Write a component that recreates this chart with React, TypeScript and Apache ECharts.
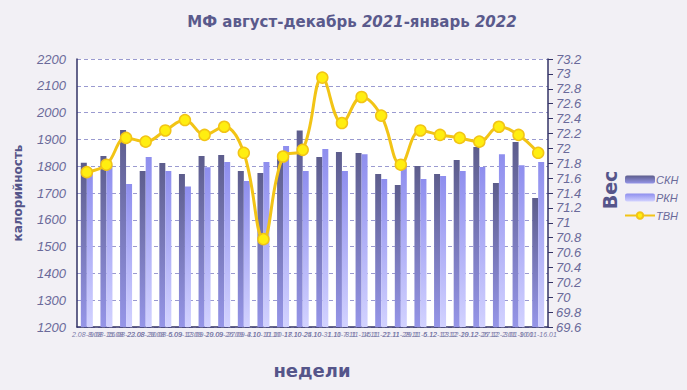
import React, { useEffect, useRef } from "react";
import * as echarts from "echarts";

const weeks = [
  "2.08-8.08", "9.08-15.08", "16.08-22.08", "23.08-29.08", "30.08-5.09", "6.09-12.09",
  "13.09-19.09", "20.09-26.09", "27.09-3.10", "4.10-10.10", "11.10-17.10", "18.10-24.10",
  "25.10-31.10", "1.11-7.11", "8.11-14.11", "15.11-21.11", "22.11-28.11", "29.11-5.12",
  "6.12-12.12", "13.12-19.12", "20.12-26.12", "27.12-2.01", "3.01-9.01", "10.01-16.01",
];
const skn = [1813, 1838, 1935, 1782, 1812, 1771, 1838, 1842, 1782, 1775, 1830, 1933,
  1834, 1853, 1849, 1771, 1730, 1801, 1771, 1823, 1872, 1737, 1890, 1681];
const rkn = [1785, 1805, 1734, 1834, 1782, 1724, 1796, 1816, 1745, 1816, 1875, 1782,
  1864, 1782, 1845, 1752, 1800, 1752, 1763, 1782, 1797, 1845, 1804, 1816];
const tvn = [71.68, 71.78, 72.14, 72.09, 72.24, 72.38, 72.18, 72.29, 71.94, 70.78, 71.89, 71.98,
  72.95, 72.34, 72.69, 72.44, 71.78, 72.24, 72.18, 72.14, 72.09, 72.29, 72.18, 71.94];

const textColor = "#6a6a9a";
const nameColor = "#55558a";

export default function App() {
  const ref = useRef<HTMLDivElement>(null);
  useEffect(() => {
    document.body.style.margin = "0";
    const chart = echarts.init(ref.current!, null, { renderer: "svg" });
    chart.setOption({
      animation: false,
      backgroundColor: "#f2f0f5",
      title: {
        text: "{a|МФ август-декабрь }{b|2021}{a|-январь }{b|2022}",
        left: 347,
        top: 9,
        textAlign: "center",
        textStyle: {
          rich: {
            a: { fontFamily: "DejaVu Sans", fontWeight: "bold", fontSize: 15, color: "#5a5a8c" },
            b: { fontFamily: "DejaVu Sans", fontWeight: "bold", fontStyle: "italic", fontSize: 15, color: "#5a5a8c" },
          },
        },
      },
      grid: {
        left: 77, right: 139, top: 59, bottom: 63,
        show: true, backgroundColor: "#ffffff", borderWidth: 0,
      },
      legend: {
        orient: "vertical",
        left: 619,
        top: 169,
        itemWidth: 30,
        itemHeight: 8,
        itemGap: 7,
        textStyle: { fontFamily: "Liberation Sans", fontStyle: "italic", fontSize: 11, color: textColor, padding: [0, 0, 0, -4] },
        data: ["СКН", "РКН", "ТВН"],
      },
      xAxis: {
        type: "category",
        data: weeks,
        axisLine: { lineStyle: { color: "#333366", width: 1.5 } },
        axisTick: { inside: true, length: 3, lineStyle: { color: "#333366" } },
        axisLabel: {
          interval: 0,
          hideOverlap: false,
          fontFamily: "Liberation Sans",
          fontStyle: "italic",
          fontSize: 7,
          color: "#7a7aa8",
          margin: 4,
        },
      },
      yAxis: [
        {
          type: "value",
          min: 1200, max: 2200, interval: 100,
          axisLine: { show: true, lineStyle: { color: "#333366", width: 1.5 } },
          axisTick: { show: false },
          axisLabel: {
            fontFamily: "Liberation Sans", fontStyle: "italic", fontSize: 13, color: textColor, margin: 11,
            formatter: (v: number) => String(v),
          },
          splitLine: { lineStyle: { color: "#9a9ad0", type: [4, 3] } },
        },
        {
          type: "value",
          min: 69.6, max: 73.2, interval: 0.2,
          position: "right",
          axisLine: { show: true, lineStyle: { color: "#333366", width: 1.5 } },
          axisTick: { show: true, length: 5, lineStyle: { color: "#333366" } },
          axisLabel: {
            fontFamily: "Liberation Sans", fontStyle: "italic", fontSize: 13, color: textColor, margin: 8,
            formatter: (v: number) => String(Number(v.toFixed(1))),
          },
          splitLine: { show: false },
        },
      ],
      series: [
        {
          name: "СКН",
          type: "bar",
          data: skn,
          barWidth: 6,
          barGap: "0%",
          itemStyle: {
            color: new echarts.graphic.LinearGradient(0, 0, 0, 1, [
              { offset: 0, color: "#5d5d8c" },
              { offset: 1, color: "#9595e8" },
            ]),
          },
        },
        {
          name: "РКН",
          type: "bar",
          data: rkn,
          barWidth: 6,
          barGap: "0%",
          itemStyle: {
            color: new echarts.graphic.LinearGradient(0, 0, 0, 1, [
              { offset: 0, color: "#8e8eee" },
              { offset: 1, color: "#d2d2ff" },
            ]),
          },
        },
        {
          name: "ТВН",
          type: "line",
          yAxisIndex: 1,
          data: tvn,
          smooth: 0.4,
          symbol: "circle",
          symbolSize: 11,
          lineStyle: { color: "#f2c416", width: 3 },
          itemStyle: { color: "#ffee10", borderColor: "#f2c416", borderWidth: 1.5 },
        },
      ],
      graphic: [
        {
          type: "text", x: 18, y: 193, rotation: Math.PI / 2,
          style: {
            text: "калорийность", fontFamily: "DejaVu Sans", fontWeight: "bold", fontSize: 12,
            fill: nameColor, align: "center", verticalAlign: "middle",
          },
        },
        {
          type: "text", x: 610, y: 190, rotation: Math.PI / 2,
          style: {
            text: "Вес", fontFamily: "DejaVu Sans", fontWeight: "bold", fontSize: 19,
            fill: nameColor, align: "center", verticalAlign: "middle",
          },
        },
        {
          type: "text", x: 312, y: 370,
          style: {
            text: "недели", fontFamily: "DejaVu Sans", fontWeight: "bold", fontSize: 18,
            fill: nameColor, align: "center", verticalAlign: "middle",
          },
        },
      ],
    });
    return () => chart.dispose();
  }, []);
  return <div ref={ref} style={{ width: 687, height: 390 }} />;
}
